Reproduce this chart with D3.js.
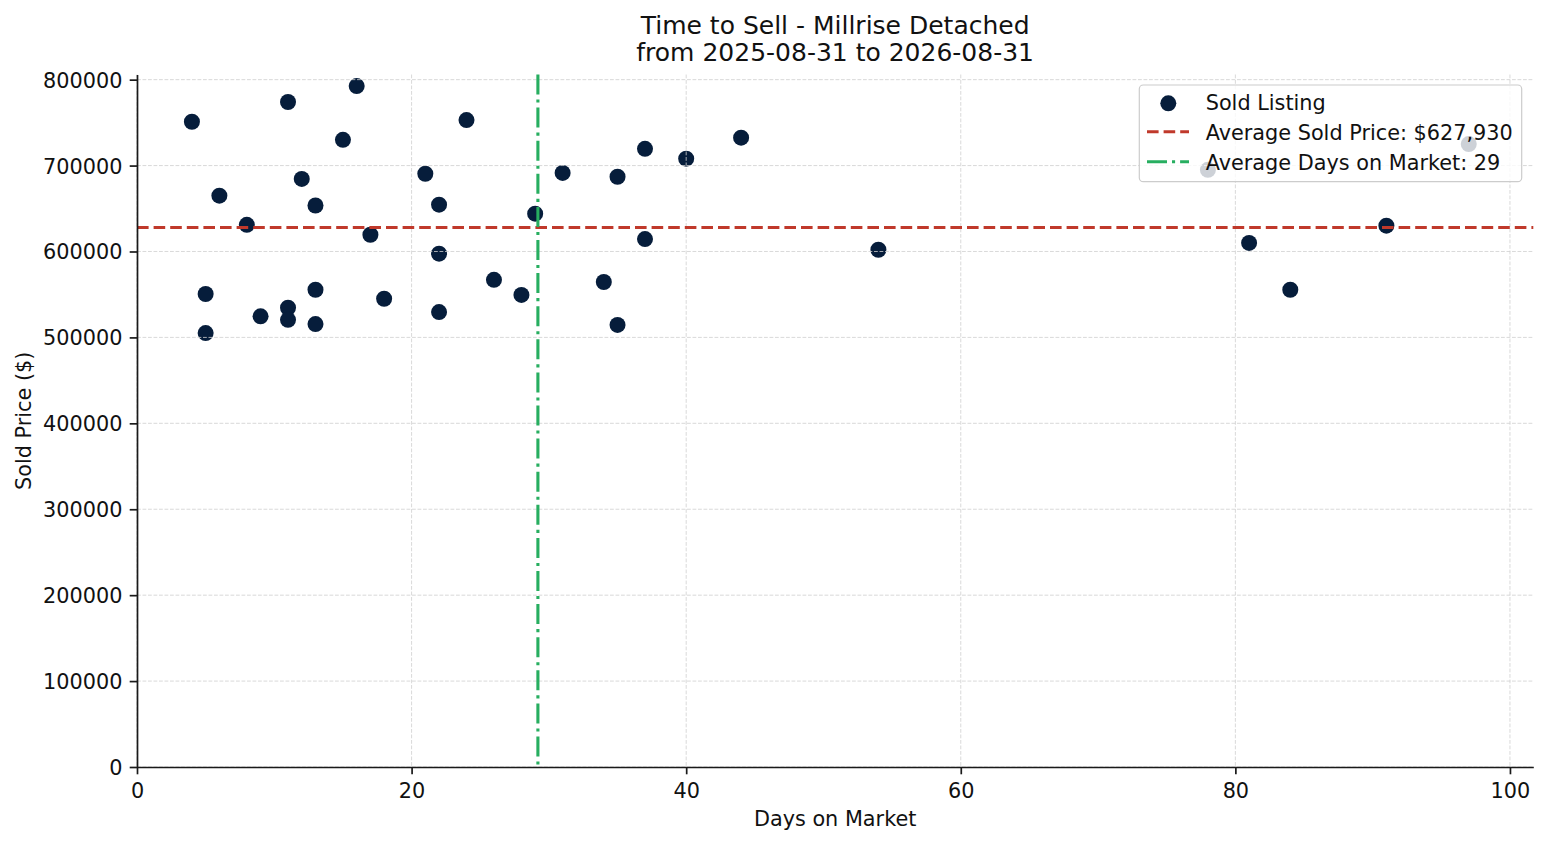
<!DOCTYPE html>
<html>
<head>
<meta charset="utf-8">
<script src="https://cdn.jsdelivr.net/npm/d3@7"></script>
<style>
  html, body { margin: 0; padding: 0; background: #fff; }
  svg { display: block; font-family: "DejaVu Sans", sans-serif; }
</style>
</head>
<body>
<div id="chart"></div>
<script>
// Sold listings: days on market and sold price
const daysOnMarket = [
    4, 11, 16, 15, 24, 21, 31, 12, 6, 13, 22, 29, 8, 17, 22, 26, 28, 5, 13, 18,
    11, 9, 11, 13, 22, 5,
    37, 40, 44, 35, 37, 54, 34, 35,
    78, 97, 81, 91, 84
];
const soldPrices = [
    751000, 774000, 792500, 730000, 753000, 690500, 691500, 684500, 665000, 653500,
    654500, 644000, 631000, 619500, 597500, 567000, 549500, 550500, 555500, 545000,
    534500, 524500, 520500, 515500, 529500, 505000,
    719500, 708000, 732500, 687000, 614500, 602000, 564500, 514500,
    695000, 725000, 610000, 630000, 555500
];
const avgSoldPrice = 627930;
const avgDays = 29.2;

const xTicks = [0, 20, 40, 60, 80, 100];
const yTicks = [0, 100000, 200000, 300000, 400000, 500000, 600000, 700000, 800000];

const titleLines = ["Time to Sell - Millrise Detached", "from 2025-08-31 to 2026-08-31"];
const legendLabels = [
    "Sold Listing",
    "Average Sold Price: $" + d3.format(",")(avgSoldPrice),
    "Average Days on Market: " + Math.round(avgDays)
];

const width = 1547, height = 845;
const plot = { left: 137, right: 1533.3, top: 74.5, bottom: 767 };
const fs = 20.8;

const pointColor = "#061d3b";
const priceColor = "#c0392b";
const daysColor = "#27ae60";

const svg = d3.select("#chart")
    .append("svg")
    .attr("width", width)
    .attr("height", height)
    .attr("viewBox", [0, 0, width, height]);

const x = d3.scaleLinear().domain([0, 101.7]).range([plot.left, plot.right]);
const y = d3.scaleLinear().domain([0, 806000]).range([plot.bottom, plot.top]);

const data = daysOnMarket.map((d, i) => ({ days: d, price: soldPrices[i] }));

// Points (drawn under the grid, as matplotlib does)
svg.append("g")
    .attr("class", "points")
    .selectAll("circle")
    .data(data)
    .join("circle")
    .attr("cx", d => x(d.days))
    .attr("cy", d => y(d.price))
    .attr("r", 8)
    .attr("fill", pointColor);

// Grid
const grid = svg.append("g").attr("class", "grid")
    .attr("stroke", "#cfcfcf")
    .attr("stroke-width", 0.8)
    .attr("stroke-dasharray", "3.8,1.7");

grid.selectAll("line.gx")
    .data(xTicks)
    .join("line")
    .attr("class", "gx")
    .attr("x1", d => x(d)).attr("x2", d => x(d))
    .attr("y1", plot.top).attr("y2", plot.bottom);

grid.selectAll("line.gy")
    .data(yTicks)
    .join("line")
    .attr("class", "gy")
    .attr("x1", plot.left).attr("x2", plot.right)
    .attr("y1", d => y(d)).attr("y2", d => y(d));

// Average lines
svg.append("line")
    .attr("x1", plot.left).attr("x2", plot.right)
    .attr("y1", y(avgSoldPrice)).attr("y2", y(avgSoldPrice))
    .attr("stroke", priceColor)
    .attr("stroke-width", 3.1)
    .attr("stroke-dasharray", "11.6,5");

svg.append("line")
    .attr("x1", x(avgDays)).attr("x2", x(avgDays))
    .attr("y1", plot.top).attr("y2", plot.bottom)
    .attr("stroke", daysColor)
    .attr("stroke-width", 3.1)
    .attr("stroke-dasharray", "20,5,3.1,5");

// Axes
const xAxis = svg.append("g")
    .attr("transform", `translate(0,${plot.bottom})`)
    .call(d3.axisBottom(x).tickValues(xTicks).tickFormat(d3.format("d"))
        .tickSize(7.3).tickSizeOuter(0).tickPadding(7.3));

const yAxis = svg.append("g")
    .attr("transform", `translate(${plot.left},0)`)
    .call(d3.axisLeft(y).tickValues(yTicks).tickFormat(d3.format("d"))
        .tickSize(7.3).tickSizeOuter(0).tickPadding(7.3));

[xAxis, yAxis].forEach(ax => {
    ax.select(".domain").attr("stroke", "#1a1a1a").attr("stroke-width", 1.7);
    ax.selectAll(".tick line").attr("stroke", "#1a1a1a").attr("stroke-width", 1.7);
    ax.selectAll(".tick text")
        .attr("fill", "#111")
        .style("font-family", "DejaVu Sans")
        .style("font-size", fs + "px");
});
xAxis.selectAll(".tick text").attr("dy", null).attr("y", 31);
yAxis.selectAll(".tick text").attr("dy", "0.36em");

// Axis labels
svg.append("text")
    .attr("x", (plot.left + plot.right) / 2)
    .attr("y", 826)
    .attr("text-anchor", "middle")
    .attr("font-size", fs)
    .attr("fill", "#111")
    .text("Days on Market");

svg.append("text")
    .attr("transform", `translate(31,${(plot.top + plot.bottom) / 2}) rotate(-90)`)
    .attr("text-anchor", "middle")
    .attr("font-size", fs)
    .attr("fill", "#111")
    .text("Sold Price ($)");

// Title
svg.append("g")
    .selectAll("text")
    .data(titleLines)
    .join("text")
    .attr("x", (plot.left + plot.right) / 2)
    .attr("y", (d, i) => 33.5 + i * 27)
    .attr("text-anchor", "middle")
    .attr("font-size", 25)
    .attr("fill", "#111")
    .text(d => d);

// Legend
const legend = svg.append("g").attr("class", "legend");
legend.append("rect")
    .attr("x", 1139.3).attr("y", 85)
    .attr("width", 382.4).attr("height", 96.7)
    .attr("rx", 4).attr("ry", 4)
    .attr("fill", "#fff").attr("fill-opacity", 0.8)
    .attr("stroke", "#cccccc").attr("stroke-width", 1.2);

legend.append("circle")
    .attr("cx", 1168.3).attr("cy", 103.3).attr("r", 8)
    .attr("fill", pointColor);

legend.append("line")
    .attr("x1", 1147).attr("x2", 1189)
    .attr("y1", 131.7).attr("y2", 131.7)
    .attr("stroke", priceColor).attr("stroke-width", 3.1)
    .attr("stroke-dasharray", "11.6,5");

legend.append("line")
    .attr("x1", 1147).attr("x2", 1189)
    .attr("y1", 161.7).attr("y2", 161.7)
    .attr("stroke", daysColor).attr("stroke-width", 3.1)
    .attr("stroke-dasharray", "20,5,3.1,5");

legend.selectAll("text")
    .data(legendLabels)
    .join("text")
    .attr("x", 1205.7)
    .attr("y", (d, i) => 110 + i * 30)
    .attr("font-size", fs)
    .attr("fill", "#111")
    .text(d => d);
</script>
</body>
</html>
